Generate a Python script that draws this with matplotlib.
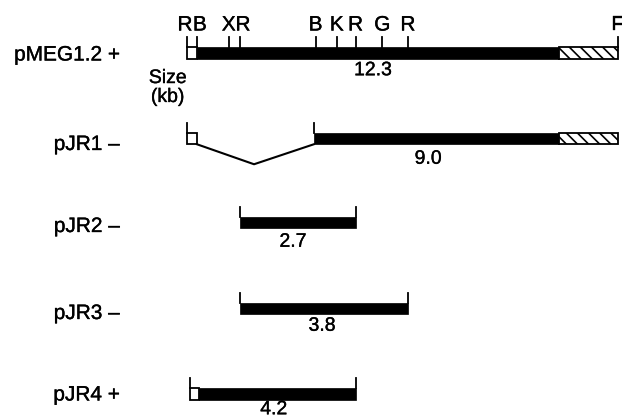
import matplotlib
matplotlib.use("Agg")
import matplotlib.pyplot as plt
import matplotlib.patheffects as pe
from matplotlib.patches import Rectangle

plt.rcParams['font.family'] = ['Liberation Sans', 'DejaVu Sans']
plt.rcParams['hatch.linewidth'] = 1.2

# restriction sites on the pMEG1.2 map (map units, kb-ish)
sites = ["R", "B", "X", "R", "B", "K", "R", "G", "R", "F"]
site_pos = [0.0, 0.29, 1.22, 1.55, 3.76, 4.38, 4.93, 5.71, 6.46, 12.6]

# clones
names = ["pMEG1.2 +", "pJR1 \u2013", "pJR2 \u2013", "pJR3 \u2013", "pJR4 +"]
starts = [0.0, 0.0, 1.55, 1.55, 0.08]
ends = [12.6, 12.6, 4.93, 6.46, 4.93]
box_end = [0.29, 0.29, None, None, 0.35]       # open box at the left end
gap = [None, (0.29, 1.96, 3.71), None, None, None]  # deletion (start, dip, end)
hatch_from = [10.87, 10.87, None, None, None]
sizes = ["12.3", "9.0", "2.7", "3.8", "4.2"]
size_x = [5.44, 7.05, 3.1, 3.95, 2.54]

# layout (pixel rows)
row_y = [53, 138.5, 222.5, 308.5, 394]
name_dy = [2, 6, 4, 5, 1]
size_dy = [18, 21, 20, 18, 16]
site_dx = [-2, 3, 0, 3, 0, 0, 0, 0, 0, 0]   # px nudges of the site letters
bh = 11.5
tick = 10
bold = [pe.withStroke(linewidth=0.25, foreground="black")]

fig = plt.figure(figsize=(6.22, 4.19), dpi=100)
ax = fig.add_axes([0, 0, 1, 1])
scale = 34.2
ax.set_xlim(-187 / scale, (622 - 187) / scale)
ax.set_ylim(419, 0)
ax.axis("off")

lw = 1.3
for i in range(len(names)):
    y = row_y[i]
    top = y - bh / 2
    bot = y + bh / 2
    s, e = starts[i], ends[i]
    bar_s = s
    if box_end[i] is not None:
        ax.add_patch(Rectangle((s, top), box_end[i] - s, bh, facecolor="white",
                               edgecolor="black", lw=lw))
        bar_s = box_end[i]
    if gap[i] is not None:
        g0, gm, g1 = gap[i]
        ax.plot([g0, gm, g1], [bot, bot + 20, bot], color="black", lw=1.5)
        bar_s = g1
        ax.plot([g1, g1], [top - tick, top], color="black", lw=lw)
    bar_e = hatch_from[i] if hatch_from[i] is not None else e
    ax.add_patch(Rectangle((bar_s, top), bar_e - bar_s, bh, facecolor="black",
                           edgecolor="black", lw=0.5))
    if hatch_from[i] is not None:
        ax.add_patch(Rectangle((hatch_from[i], top), e - hatch_from[i], bh,
                               facecolor="white", edgecolor="black", hatch="\\\\\\",
                               lw=lw))
    # end ticks
    if i != 0:
        ax.plot([s, s], [top - tick, top], color="black", lw=lw)
        if hatch_from[i] is None:
            ax.plot([e, e], [top - tick, top], color="black", lw=lw)
    ax.text(-1.96, y + name_dy[i], names[i], ha="right", va="center",
            fontsize=15, path_effects=bold)
    ax.text(size_x[i], bot + size_dy[i] - 6, sizes[i], ha="center", va="center",
            fontsize=14, path_effects=bold)

# site ticks and letters on the parent map
top0 = row_y[0] - bh / 2
for lab, p, dx in zip(sites, site_pos, site_dx):
    ax.plot([p, p], [top0 - tick, top0], color="black", lw=lw)
    ax.text(p + dx / scale, 25, lab, ha="center", va="center", fontsize=15,
            path_effects=bold)

ax.text(-0.56, 88, "Size\n(kb)", ha="center", va="center", fontsize=14,
        linespacing=1.15, path_effects=bold)

fig.savefig("out.png", dpi=100)
